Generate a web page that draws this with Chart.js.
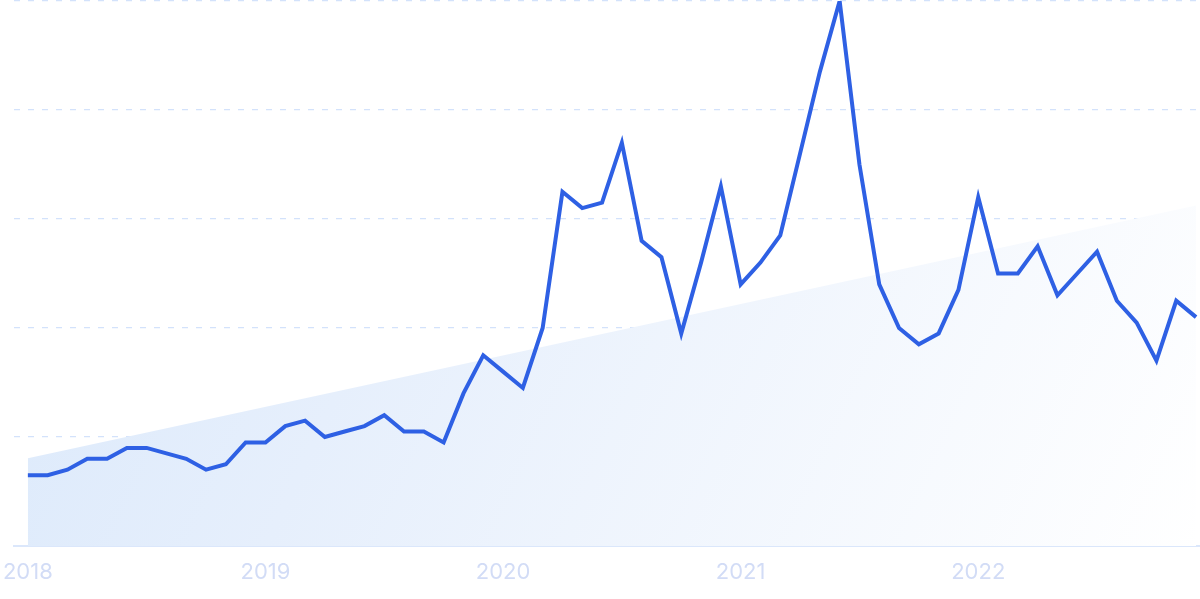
<!DOCTYPE html>
<html>
<head>
<meta charset="utf-8">
<script src="https://cdn.jsdelivr.net/npm/chart.js@4"></script>
<style>
  html, body { margin: 0; padding: 0; background: #fff; }
  #wrap { width: 1200px; height: 599px; position: relative; }
</style>
</head>
<body>
<div id="wrap"><canvas id="chart"></canvas></div>
<script>
// monthly values, Jan 2018 .. Dec 2022
const values = [
    13, 13, 14, 16, 16, 18, 18, 17, 16, 14, 15, 19,
    19, 22, 23, 20, 21, 22, 24, 21, 21, 19, 28, 35,
    32, 29, 40, 65, 62, 63, 74, 56, 53, 39, 52, 66,
    48, 52, 57, 72, 87, 100, 70, 48, 40, 37, 39, 47,
    64, 50, 50, 55, 46, 50, 54, 45, 41, 34, 45, 42
];
// trend line end points (first and last month)
const trendIdx = [0, 59];
const trendValues = [16.1, 62.5];
// year ticks
const yearIdx = [0, 12, 24, 36, 48];
const yearLabels = ['2018', '2019', '2020', '2021', '2022'];

const lineData = values.map((v, i) => ({ x: i, y: v }));
const trendData = trendIdx.map((x, i) => ({ x, y: trendValues[i] }));

const ctx = document.getElementById('chart').getContext('2d');

const trendFill = (context) => {
    const area = context.chart.chartArea;
    if (!area) return 'rgba(223,235,251,0.9)';
    const g = context.chart.ctx.createLinearGradient(area.left, area.top, area.right, area.bottom);
    g.addColorStop(0, '#d9e8fb');
    g.addColorStop(0.35, '#e6effc');
    g.addColorStop(1, '#ffffff');
    return g;
};

new Chart(ctx, {
    type: 'line',
    data: {
        datasets: [
            {
                label: 'Searches',
                data: lineData,
                borderColor: '#2e60e4',
                borderWidth: 4,
                pointRadius: 0,
                tension: 0,
                fill: false,
                order: 0
            },
            {
                label: 'Trend',
                data: trendData,
                borderWidth: 0,
                borderColor: 'rgba(0,0,0,0)',
                backgroundColor: trendFill,
                pointRadius: 0,
                fill: 'origin',
                order: 1
            }
        ]
    },
    options: {
        responsive: true,
        maintainAspectRatio: false,
        animation: false,
        layout: { padding: { left: 14, right: 0, top: 1, bottom: 0 } },
        plugins: {
            legend: { display: false },
            tooltip: { enabled: false }
        },
        scales: {
            x: {
                type: 'linear',
                min: -0.7,
                max: 59.2,
                afterBuildTicks: (scale) => {
                    scale.ticks = yearIdx.map(v => ({ value: v }));
                },
                afterFit: (scale) => {
                    // keep the plot flush with the left padding, fixed axis height
                    scale.paddingLeft = 0;
                    scale.paddingRight = 0;
                    scale.height = 53;
                },
                ticks: {
                    autoSkip: false,
                    maxRotation: 0,
                    padding: 13,
                    color: '#d2dcf6',
                    font: { family: 'Inter', size: 22 },
                    callback: (value) => yearLabels[yearIdx.indexOf(value)]
                },
                grid: { display: false, drawTicks: false },
                border: { display: true, color: '#dbe7fb', width: 2 }
            },
            y: {
                min: 0,
                max: 100,
                ticks: { display: false, stepSize: 20 },
                grid: {
                    drawTicks: false,
                    color: (c) => c.tick && c.tick.value === 0 ? 'rgba(0,0,0,0)' : '#d3e2fb',
                    lineWidth: 1.2
                },
                border: { display: false, dash: [6, 8] }
            }
        }
    }
});
</script>
</body>
</html>
